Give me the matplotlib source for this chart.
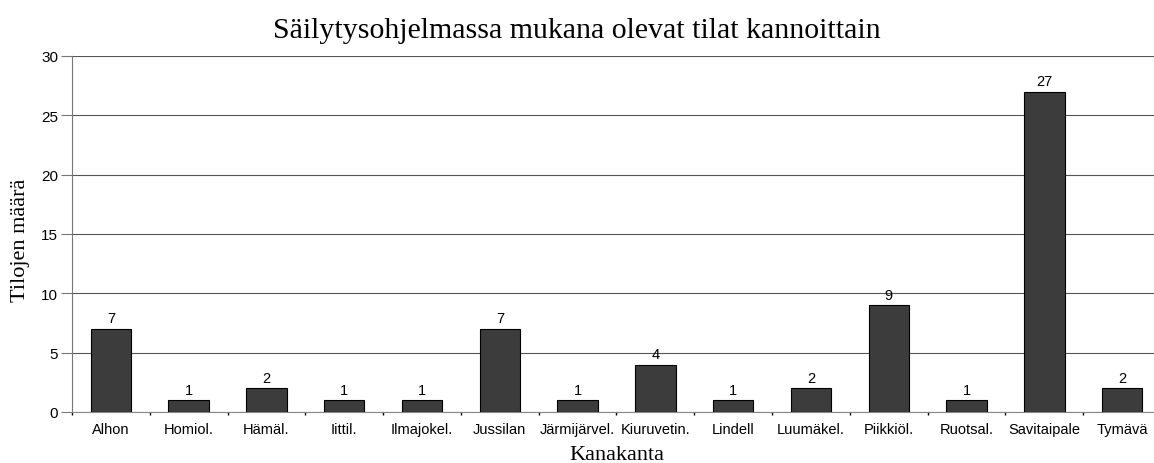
import matplotlib.pyplot as plt
import numpy as np

breeds = ["Alhon", "Homiol.", "Hämäl.", "Iittil.", "Ilmajokel.", "Jussilan",
          "Järmijärvel.", "Kiuruvetin.", "Lindell", "Luumäkel.", "Piikkiöl.",
          "Ruotsal.", "Savitaipale", "Tymävä"]
farms = [7, 1, 2, 1, 1, 7, 1, 4, 1, 2, 9, 1, 27, 2]
y_ticks = [0, 5, 10, 15, 20, 25, 30]

serif = ["Liberation Serif", "DejaVu Serif"]
sans = ["Liberation Sans", "DejaVu Sans"]

fig = plt.figure(figsize=(11.54, 4.64), dpi=100)
# plot area runs slightly past the right edge, as in the cropped original
ax = fig.add_axes([72 / 1154, 51 / 464, 1089 / 1154, 356 / 464])

x = np.arange(len(breeds))
bars = ax.bar(x, farms, width=0.52, color="#3c3c3c", edgecolor="black",
              linewidth=0.8, zorder=3)
for b, v in zip(bars, farms):
    ax.text(b.get_x() + b.get_width() / 2, v + 0.3, str(v), ha="center",
            va="bottom", fontsize=10.5, family=sans)

ax.set_xlim(-0.5, len(breeds) - 0.5)
ax.set_ylim(0, 30)
ax.set_yticks(y_ticks)
ax.set_yticklabels([str(t) for t in y_ticks], family=sans, fontsize=11)
ax.yaxis.grid(True, color="#555555", linewidth=0.8, zorder=0)

ax.set_xticks(x)
ax.set_xticklabels(breeds, family=sans, fontsize=10.5)
ax.tick_params(axis="x", length=0, pad=7)
ax.set_xticks(np.arange(len(breeds) + 1) - 0.5, minor=True)
ax.tick_params(axis="x", which="minor", length=2, width=1, direction="out")
ax.tick_params(axis="y", length=8, width=0.8, color="#777777", pad=2)

for s in ["top", "right"]:
    ax.spines[s].set_visible(False)
ax.spines["left"].set_color("#777777")
ax.spines["bottom"].set_color("#888888")

ax.set_title("Säilytysohjelmassa mukana olevat tilat kannoittain",
             family=serif, fontsize=21.5, pad=14, x=(577 - 72) / 1089)
ax.set_xlabel("Kanakanta", family=serif, fontsize=16, labelpad=7)
ax.set_ylabel("Tilojen määrä", family=serif, fontsize=16)
ax.yaxis.set_label_coords(-0.0386, 0.486)

fig.savefig("out.png", dpi=100)
